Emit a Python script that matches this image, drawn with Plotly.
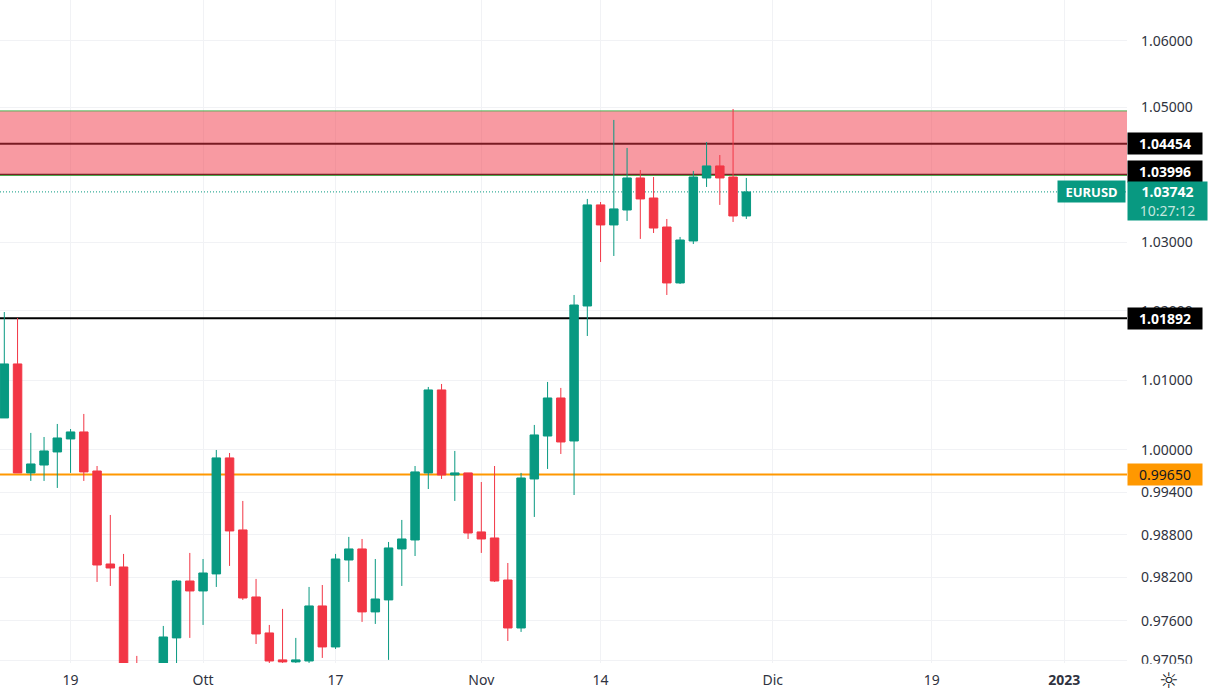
import math
import plotly.graph_objects as go

# daily EURUSD candles (trading days from 12 Sep 2022)
opens = [1.00457, 1.01232, 0.99674, 0.99786, 0.99972, 1.00157, 1.00257, 0.99701, 0.98390, 0.98348,
         0.96890, 0.96504, 0.96917, 0.97360, 0.98152, 0.98013, 0.98251, 0.99887, 0.98868, 0.97929,
         0.97429, 0.97056, 0.97028, 0.97041, 0.97804, 0.97235, 0.98446, 0.98601, 0.97721, 0.97888,
         0.98601, 0.98727, 0.99674, 1.00858, 0.99645, 0.99674, 0.98840, 0.98755, 0.98166, 0.97498,
         0.99588, 1.00199, 1.00743, 1.00128, 1.02071, 1.03550, 1.03255, 1.03475, 1.03948, 1.03652,
         1.03225, 1.02406, 1.03020, 1.03948, 1.04126, 1.03962, 1.03387]
highs = [1.01983, 1.01897, 1.00243, 1.00185, 1.00371, 1.00299, 1.00514, 0.99772, 0.99079, 0.98531,
         0.97111, 0.96917, 0.97526, 0.98166, 0.98545, 0.98460, 1.00000, 0.99957, 0.99277, 0.98181,
         0.97540, 0.97763, 0.97360, 0.98069, 0.98096, 0.98531, 0.98770, 0.98741, 0.98460, 0.98699,
         0.99009, 0.99772, 1.00901, 1.00944, 0.99986, 0.99674, 0.99545, 0.99772, 0.98404, 0.99674,
         1.00357, 1.00973, 1.00887, 1.02231, 1.03638, 1.03593, 1.04810, 1.04393, 1.04066, 1.03962,
         1.03343, 1.03079, 1.04052, 1.04482, 1.04288, 1.04974, 1.03948]
lows = [1.00457, 0.99674, 0.99560, 0.99560, 0.99461, 0.99674, 0.99560, 0.98139, 0.98083, 0.96504,
        0.96504, 0.96435, 0.96711, 0.96917, 0.97360, 0.97540, 0.98069, 0.98363, 0.97888, 0.97276,
        0.97000, 0.97014, 0.97014, 0.97014, 0.97083, 0.97207, 0.98139, 0.97582, 0.97554, 0.97056,
        0.98083, 0.98502, 0.99446, 0.99588, 0.99277, 0.98741, 0.98545, 0.98139, 0.97318, 0.97443,
        0.99051, 0.99730, 0.99943, 0.99361, 1.01636, 1.02712, 1.02800, 1.03314, 1.03050, 1.03137,
        1.02231, 1.02391, 1.02975, 1.03815, 1.03550, 1.03299, 1.03343]
closes = [1.01232, 0.99674, 0.99801, 0.99986, 1.00171, 1.00257, 0.99688, 0.98376, 0.98334, 0.96780,
          0.96642, 0.96711, 0.97373, 0.98152, 0.98013, 0.98264, 0.99887, 0.98854, 0.97915, 0.97415,
          0.97041, 0.97028, 0.97056, 0.97804, 0.97235, 0.98460, 0.98601, 0.97721, 0.97901, 0.98615,
          0.98741, 0.99688, 1.00858, 0.99645, 0.99674, 0.98825, 0.98741, 0.98152, 0.97498, 0.99602,
          1.00214, 1.00743, 1.00114, 1.02085, 1.03550, 1.03255, 1.03491, 1.03948, 1.03638, 1.03210,
          1.02406, 1.03034, 1.03962, 1.04126, 1.03948, 1.03387, 1.03742]

# axis labels
x_tick_pos = [5, 15, 25, 36, 45, 58, 70, 80]
x_tick_text = ["19", "Ott", "17", "Nov", "14", "Dic", "19", "<b>2023</b>"]
y_ticks = [1.06, 1.05, 1.03, 1.02, 1.01, 1.00, 0.994, 0.988, 0.982, 0.976, 0.9705]
y_tick_text = ["1.06000", "1.05000", "1.03000", "1.02000", "1.01000", "1.00000",
               "0.99400", "0.98800", "0.98200", "0.97600", "0.97050"]

# levels drawn on the chart
zone_low = 1.03985
zone_high = 1.04945
level_top = 1.04454
level_mid = 1.03996
level_black = 1.01892
level_orange = 0.99650
last_price = 1.03742

x_left = -0.325
x_right = 84.73

UP = "#089981"
DOWN = "#f23645"
GRID = "#f1f2f5"
TEXT = "#2f3340"
FONT = "Noto Sans"

fig = go.Figure()

fig.add_trace(go.Candlestick(
    x=list(range(len(opens))),
    open=opens, high=highs, low=lows, close=closes,
    increasing=dict(line=dict(color=UP, width=1), fillcolor=UP),
    decreasing=dict(line=dict(color=DOWN, width=1), fillcolor=DOWN),
    whiskerwidth=0,
    showlegend=False,
))


def hline(value, color, width=2, dash="solid"):
    # "between" keeps these over the grid and under the candles
    fig.add_shape(type="line", xref="x", yref="y", x0=x_left, x1=x_right, y0=value, y1=value,
                  line=dict(color=color, width=width, dash=dash), layer="between")


# black levels go first so the red zone tints them
hline(level_top, "black")
hline(level_mid, "black")
fig.add_shape(type="rect", xref="x", yref="y", x0=x_left, x1=x_right, y0=zone_low, y1=zone_high,
              fillcolor="rgba(242,54,69,0.5)", line=dict(width=0), layer="between")
hline(zone_low, "#4caf50", width=1)
hline(zone_high, "#4caf50", width=1)
hline(level_black, "black")
hline(level_orange, "#ff9800")
hline(last_price, UP, width=1, dash="1px,2px")

# hides the lower half of the clipped bottom tick label
fig.add_shape(type="rect", xref="paper", yref="paper", x0=1, x1=1.073, y0=-0.014, y1=-0.001,
              fillcolor="white", line=dict(width=0), layer="above")


def price_tag(value, text, bg, color="white", bold=True, shift=0):
    label = "<b>%s</b>" % text if bold else text
    fig.add_annotation(x=1, xref="paper", xanchor="left", y=math.log10(value), yref="y", yshift=shift,
                       text=label, showarrow=False, width=74, height=21, bgcolor=bg,
                       borderpad=0, align="center", font=dict(family=FONT, size=14, color=color))


price_tag(level_black, "1.01892", "black")
price_tag(level_top, "1.04454", "black")
price_tag(level_mid, "1.03996", "black", shift=3)
price_tag(level_orange, "0.99650", "#ff9800", color="#131722", bold=False)

# symbol tag and countdown next to the last price
fig.add_annotation(x=1, xref="paper", xanchor="right", xshift=-1, y=math.log10(last_price), yref="y",
                   text="<b>EURUSD</b>", showarrow=False, width=67, height=21, bgcolor=UP, borderpad=0,
                   font=dict(family=FONT, size=13, color="white"))
fig.add_annotation(x=1, xref="paper", xanchor="left", y=math.log10(last_price), yref="y",
                   yanchor="top", yshift=11, showarrow=False, width=79, height=38, bgcolor=UP, borderpad=0,
                   text="<b>%.5f</b><br><span style='color:#c4e6df'>10:27:12</span>" % last_price,
                   font=dict(family=FONT, size=14, color="white"))

# theme icon bottom right
fig.add_annotation(x=1.0373, xref="paper", xanchor="center", y=-0.027, yref="paper", yanchor="middle",
                   text="☼", showarrow=False, font=dict(family="DejaVu Sans", size=22, color="#131722"))

fig.update_layout(
    width=1209, height=696,
    margin=dict(l=0, r=82, t=0, b=33),
    paper_bgcolor="white", plot_bgcolor="white",
    font=dict(family=FONT, size=14, color=TEXT),
    showlegend=False,
    xaxis=dict(range=[x_left, x_right], tickmode="array", tickvals=x_tick_pos, ticktext=x_tick_text,
               showgrid=True, gridcolor=GRID, gridwidth=1, zeroline=False, showline=False, ticks="",
               ticklabelstandoff=7, rangeslider=dict(visible=False)),
    yaxis=dict(type="log", side="right", range=[math.log10(0.97013), math.log10(1.06615)],
               tickmode="array", tickvals=y_ticks, ticktext=y_tick_text,
               showgrid=True, gridcolor=GRID, gridwidth=1, zeroline=False, showline=False, ticks="",
               ticklabelstandoff=13),
    boxgap=0.36, boxgroupgap=0,
)

fig.write_html("out.html", config={"displayModeBar": False},
               post_script="document.body.style.margin='0';")
